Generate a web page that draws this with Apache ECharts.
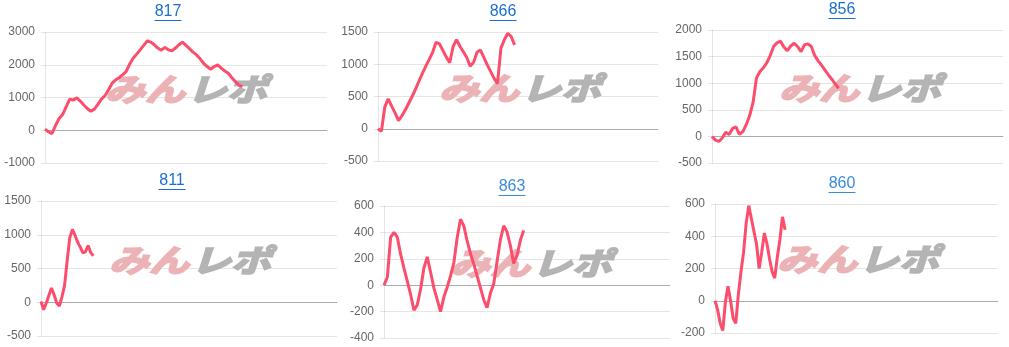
<!DOCTYPE html>
<html>
<head>
<meta charset="utf-8">
<script src="https://cdn.jsdelivr.net/npm/echarts@6/dist/echarts.min.js"></script>
<style>
  html, body { margin: 0; padding: 0; background: #ffffff; }
  #chart { width: 1009px; height: 347px; }
</style>
</head>
<body>
<div id="chart"></div>
<script>
// ---- data ----
const titles = ['817', '866', '856', '811', '863', '860'];

// number of x slots of each panel's category axis
const slotCounts = [81, 83, 86, 114, 87, 110];

const s817 = [30, -50, -100, 150, 360, 480, 715, 950, 920, 990, 890, 770, 665, 580, 645, 790, 950, 1055, 1230, 1430,
  1535, 1605, 1690, 1790, 2015, 2200, 2325, 2455, 2590, 2730, 2690, 2610, 2510, 2445, 2530, 2455, 2425, 2510, 2610, 2690,
  2590, 2490, 2385, 2300, 2180, 2045, 1945, 1865, 1945, 1995, 1895, 1810, 1740, 1605, 1485, 1380, 1330];
const s866 = [0, -40, 340, 465, 350, 245, 125, 200, 290, 395, 500, 615, 740, 860, 970, 1075, 1185, 1340, 1315, 1215,
  1110, 1025, 1275, 1380, 1280, 1195, 1105, 970, 1030, 1185, 1220, 1105, 990, 885, 780, 700, 1250, 1380, 1480, 1430, 1300];
const s856 = [0, -70, -95, -30, 80, 35, 150, 180, 40, 90, 220, 390, 640, 1100, 1220, 1290, 1380, 1520, 1690, 1760,
  1790, 1680, 1610, 1700, 1750, 1690, 1595, 1720, 1740, 1690, 1520, 1420, 1340, 1245, 1155, 1075, 985, 905];
const s811 = [10, -110, -15, 100, 210, 110, -10, -55, 80, 250, 620, 960, 1080, 990, 890, 815, 730, 750, 840, 735, 690];
const s863 = [0, 60, 365, 400, 365, 235, 130, 30, -70, -190, -150, -30, 130, 215, 100, -20, -110, -200, -90, -15,
  70, 170, 360, 500, 450, 335, 240, 160, 70, -20, -110, -170, -60, 10, 180, 345, 450, 405, 300, 165, 225, 340, 415];
const s860 = [0, -55, -140, -185, -10, 90, 0, -110, -140, 40, 180, 300, 480, 590, 510, 430, 350, 200, 300, 420,
  355, 260, 180, 140, 270, 380, 520, 440];

const seriesData = [s817, s866, s856, s811, s863, s860];

// y-axis tick settings [min, max, interval]
const yMins = [-1000, -500, -500, -500, -400, -200];
const yMaxs = [3000, 1500, 2000, 1500, 600, 600];
const yIntervals = [1000, 500, 500, 500, 200, 200];

// ---- layout (positions / sizes only) ----
const grids = [
  { left: 45,  top: 32,  width: 282, height: 131 },
  { left: 378, top: 32,  width: 280, height: 129 },
  { left: 712, top: 30,  width: 291, height: 133 },
  { left: 41,  top: 201, width: 296, height: 135 },
  { left: 384, top: 206, width: 286, height: 132 },
  { left: 715, top: 204, width: 283, height: 129 }
];
const titlePos = [[168, 13], [503, 13], [842, 11], [172, 182], [512, 188], [842, 185]];
const markPos = [[185, 89], [519, 88], [859, 88], [189, 260], [530, 263], [857, 259]];
const titleColors = ['#1b6ed2', '#1b6ed2', '#1b6ed2', '#1b6ed2', '#3a8ae0', '#3a8ae0'];

const lineColor = '#fb4d6c';
const labelFont = '"Liberation Sans", Arial, sans-serif';

const option = {
  animation: false,
  backgroundColor: '#ffffff',
  title: titles.map((t, i) => ({
    text: t,
    left: titlePos[i][0],
    top: titlePos[i][1] - 9,
    textAlign: 'center',
    padding: 0,
    textStyle: { fontSize: 16, fontWeight: 'normal', color: titleColors[i], fontFamily: labelFont }
  })),
  grid: grids.map(g => Object.assign({ containLabel: false }, g)),
  xAxis: slotCounts.map((n, i) => ({
    type: 'category',
    gridIndex: i,
    data: Array.from({ length: n }, (_, k) => String(k + 1)),
    boundaryGap: false,
    axisLabel: { show: false },
    axisTick: { show: false },
    axisLine: { show: true, onZero: true, lineStyle: { color: 'rgba(0,0,0,0.25)', width: 1 } },
    splitLine: { show: false }
  })),
  yAxis: yMins.map((mn, i) => ({
    type: 'value',
    gridIndex: i,
    min: mn,
    max: yMaxs[i],
    interval: yIntervals[i],
    axisLine: { show: true, lineStyle: { color: 'rgba(0,0,0,0.1)' } },
    axisTick: { show: true, length: 4, lineStyle: { color: 'rgba(0,0,0,0.1)' } },
    axisLabel: { color: '#666666', fontSize: 12, margin: 10, fontFamily: labelFont, formatter: v => String(v) },
    splitLine: { show: true, lineStyle: { color: 'rgba(0,0,0,0.1)', width: 1 } }
  })),
  series: seriesData.map((d, i) => ({
    type: 'line',
    name: titles[i],
    xAxisIndex: i,
    yAxisIndex: i,
    data: d,
    showSymbol: false,
    symbol: 'none',
    lineStyle: { color: lineColor, width: 3 },
    itemStyle: { color: lineColor },
    z: 5
  })),
  graphic: []
};

// title underlines and watermark logos
titlePos.forEach((p, i) => {
  option.graphic.push({
    type: 'line',
    shape: { x1: p[0] - 13.5, y1: p[1] + 7.5, x2: p[0] + 13.5, y2: p[1] + 7.5 },
    style: { stroke: titleColors[i], lineWidth: 1 },
    silent: true
  });
});
const pinkMark = '#ecb3b7';
const grayMark = '#b4b4b4';
markPos.forEach(p => {
  option.graphic.push({
    type: 'text',
    x: p[0], y: p[1],
    scaleY: 0.78,
    z: 1,
    silent: true,
    style: {
      text: 'みん',
      fill: pinkMark,
      stroke: pinkMark,
      lineWidth: 2.5,
      font: 'italic bold 40px "Noto Sans CJK JP", sans-serif',
      textAlign: 'right', align: 'right',
      textVerticalAlign: 'middle', verticalAlign: 'middle'
    }
  });
  option.graphic.push({
    type: 'text',
    x: p[0] + 2, y: p[1],
    scaleY: 0.78,
    z: 1,
    silent: true,
    style: {
      text: 'レポ',
      fill: grayMark,
      stroke: grayMark,
      lineWidth: 2.5,
      font: 'italic bold 40px "Noto Sans CJK JP", sans-serif',
      textAlign: 'left', align: 'left',
      textVerticalAlign: 'middle', verticalAlign: 'middle'
    }
  });
});

const chart = echarts.init(document.getElementById('chart'), null, { renderer: 'canvas' });
chart.setOption(option);
</script>
</body>
</html>
